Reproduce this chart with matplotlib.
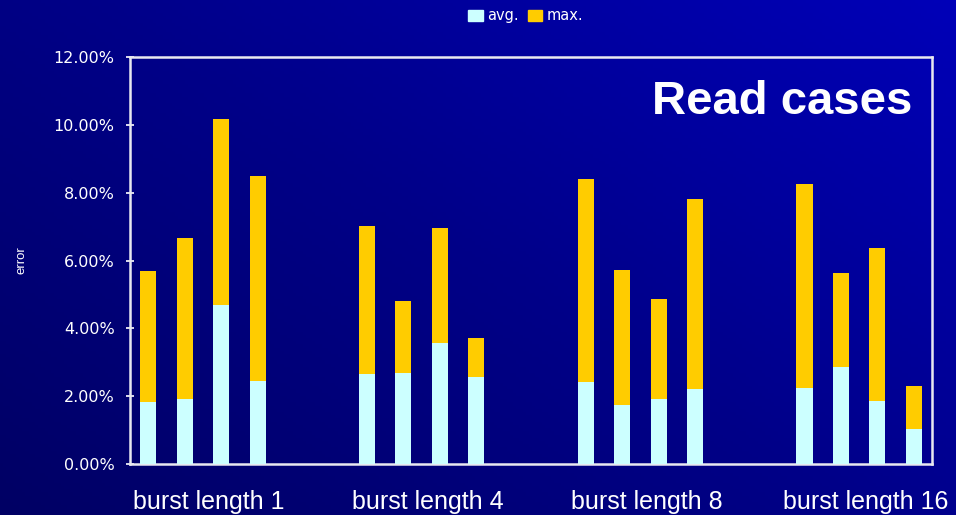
import numpy as np
import matplotlib
matplotlib.use("Agg")
import matplotlib.pyplot as plt
from matplotlib.patches import Patch
from matplotlib.colors import LinearSegmentedColormap

plt.rcParams["font.family"] = ["Liberation Sans", "DejaVu Sans"]

# error values in percent, four configurations per burst length
groups = ["burst length 1", "burst length 4", "burst length 8", "burst length 16"]
avg_err = [
    [1.82, 1.91, 4.68, 2.44],
    [2.65, 2.68, 3.56, 2.56],
    [2.41, 1.74, 1.91, 2.21],
    [2.24, 2.85, 1.85, 1.03],
]
max_err = [
    [5.68, 6.68, 10.18, 8.50],
    [7.03, 4.82, 6.96, 3.71],
    [8.41, 5.71, 4.88, 7.82],
    [8.26, 5.62, 6.38, 2.29],
]
y_ticks = [0, 2, 4, 6, 8, 10, 12]

AVG_COLOR = "#CCFFFF"
MAX_COLOR = "#FFCC00"

fig = plt.figure(figsize=(9.56, 5.15), dpi=100)

# slide background: dark navy bottom-left fading to brighter blue top-right
bg = fig.add_axes([0, 0, 1, 1], zorder=-10)
gx, gy = np.meshgrid(np.linspace(0, 1, 300), np.linspace(1, 0, 160))
shade = 0.55 * gx + 0.45 * gy
cmap = LinearSegmentedColormap.from_list("slide", ["#000064", "#000088", "#0000B8"])
bg.imshow(shade, cmap=cmap, aspect="auto", extent=[0, 1, 0, 1])
bg.set_axis_off()

ax = fig.add_axes([0.136, 0.099, 0.839, 0.790])
ax.set_facecolor("none")

# each group takes 4 bar slots followed by 2 empty slots
slots_per_group = 6
width = 0.44
for g, (avgs, maxs) in enumerate(zip(avg_err, max_err)):
    xs = np.arange(4) + g * slots_per_group
    ax.bar(xs, maxs, width=width, color=MAX_COLOR, linewidth=0, zorder=2)
    ax.bar(xs, avgs, width=width, color=AVG_COLOR, linewidth=0, zorder=3)

ax.set_xlim(-0.5, 4 * slots_per_group - 2 - 0.5)
ax.set_ylim(0, 12)

ax.set_yticks(y_ticks)
ax.set_yticklabels([f"{v:.2f}%" for v in y_ticks], fontsize=11.5, color="white",
                   family="DejaVu Sans")
ax.tick_params(axis="y", direction="inout", length=6, width=1.2, color="white", pad=8)

centers = [g * slots_per_group + 1.67 for g in range(len(groups))]
ax.set_xticks(centers)
ax.set_xticklabels(groups, fontsize=18, color="white")
ax.tick_params(axis="x", length=0, pad=19)

for spine in ax.spines.values():
    spine.set_color("#E8E8F0")
    spine.set_linewidth(1.8)

ax.set_ylabel("error", fontsize=9.5, color="white")
ax.yaxis.set_label_coords(-0.128, 0.5)

ax.text(0.975, 0.943, "Read cases", transform=ax.transAxes, ha="right", va="top",
        fontsize=34, fontweight="bold", color="white")

handles = [Patch(color=AVG_COLOR, label="avg."), Patch(color=MAX_COLOR, label="max.")]
fig.legend(handles=handles, loc="center", bbox_to_anchor=(0.55, 0.969), ncol=2,
           frameon=False, prop={"family": "DejaVu Sans", "size": 10.5},
           labelcolor="white", handlelength=1.0, handleheight=0.8,
           handletextpad=0.3, columnspacing=0.6)

fig.savefig("out.png", dpi=100)
